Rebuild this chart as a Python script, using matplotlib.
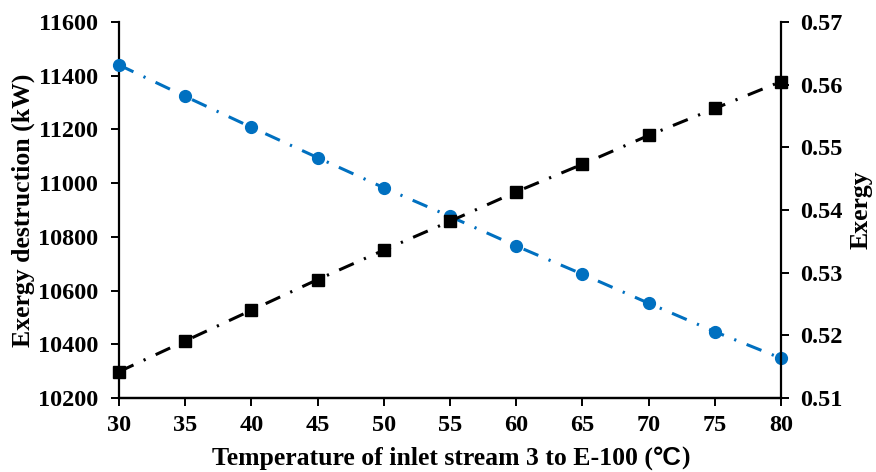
import matplotlib
matplotlib.use("Agg")
import matplotlib.pyplot as plt
from matplotlib.offsetbox import TextArea, HPacker, AnchoredOffsetbox

temperature = [30, 35, 40, 45, 50, 55, 60, 65, 70, 75, 80]
exergy_destruction = [11440, 11323, 11208, 11095, 10983, 10876, 10766, 10661, 10553, 10447, 10348]
exergy_efficiency = [0.5142, 0.5191, 0.5240, 0.5289, 0.5336, 0.5382, 0.5429, 0.5473, 0.5519, 0.5562, 0.5605]

left_ticks = [10200, 10400, 10600, 10800, 11000, 11200, 11400, 11600]
right_ticks = [0.51, 0.52, 0.53, 0.54, 0.55, 0.56, 0.57]
x_ticks = [30, 35, 40, 45, 50, 55, 60, 65, 70, 75, 80]

serif = "Liberation Serif"
fs = 17.5
fl = 18.5
plt.rcParams["lines.scale_dashes"] = False

fig = plt.figure(figsize=(8.76, 4.72), dpi=100)
ax = fig.add_axes([119/876, 1-398/472, (781-119)/876, (398-22)/472])
ax2 = ax.twinx()

dash = (0, (11.5, 8.0, 1.6, 8.0))
ax.plot(temperature, exergy_destruction, color="#0070C0", lw=2.2, linestyle=dash,
        marker="o", markersize=8.5, clip_on=False, zorder=3)
ax2.plot(temperature, exergy_efficiency, color="black", lw=2.2, linestyle=dash,
         marker="s", markersize=8.0, clip_on=False, zorder=3)

ax.set_xlim(30, 80)
ax.set_ylim(10200, 11600)
ax2.set_ylim(0.51, 0.57)
ax.set_xticks(x_ticks)
ax.set_yticks(left_ticks)
ax2.set_yticks(right_ticks)
ax2.set_yticklabels([f"{v:.2f}" for v in right_ticks])

for a in (ax, ax2):
    a.spines["top"].set_visible(False)
    for s in ("left", "right", "bottom"):
        a.spines[s].set_linewidth(1.6)
    a.tick_params(direction="out", length=6, width=1.4, labelsize=fs)
    for lab in a.get_xticklabels() + a.get_yticklabels():
        lab.set_fontfamily(serif)
        lab.set_fontweight("bold")
ax.tick_params(axis="y", pad=9)
ax.tick_params(axis="x", pad=6)
ax2.tick_params(axis="y", pad=8)
ax2.spines["left"].set_visible(False)
ax.spines["right"].set_visible(False)

ax.set_ylabel("Exergy destruction (kW)", fontsize=fl, fontweight="bold", family=serif, labelpad=2)
ax2.set_ylabel("Exergy", fontsize=fl, fontweight="bold", family=serif, labelpad=5)

t1 = TextArea("Temperature of inlet stream 3 to E-100 (", textprops=dict(fontsize=fl, fontweight="bold", family=serif))
t2 = TextArea("\u00b0C", textprops=dict(fontsize=fl, fontweight="bold", family="Liberation Sans"))
t3 = TextArea(")", textprops=dict(fontsize=fl, fontweight="bold", family=serif))
box = HPacker(children=[t1, t2, t3], align="baseline", pad=0, sep=0)
anch = AnchoredOffsetbox(loc="lower center", child=box, pad=0, frameon=False,
                         bbox_to_anchor=(451/876, 2/472), bbox_transform=fig.transFigure, borderpad=0)
fig.add_artist(anch)

fig.savefig("out.png", dpi=100)
